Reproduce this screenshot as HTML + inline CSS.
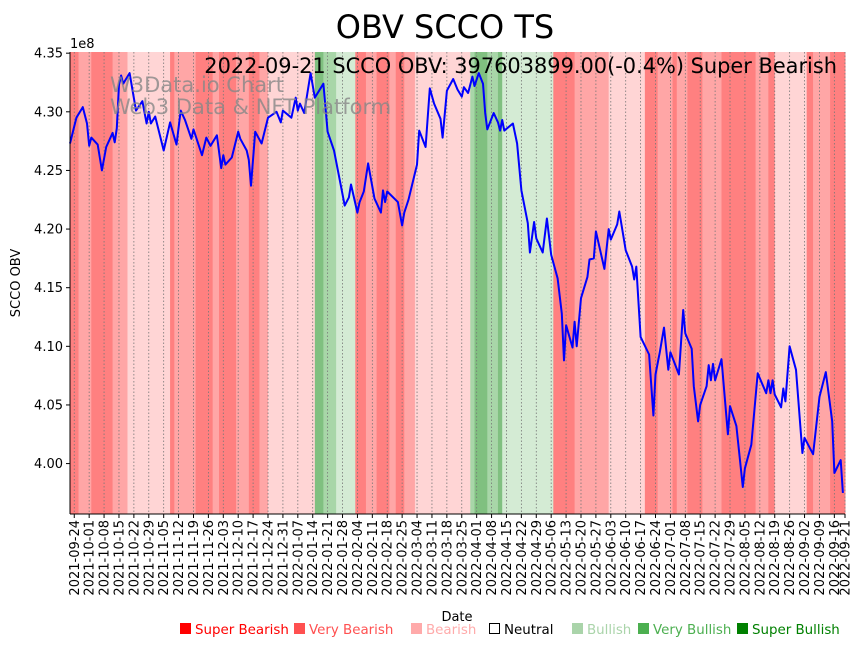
<!DOCTYPE html>
<html><head><meta charset="utf-8"><style>
body{margin:0;background:#fff;font-family:"Liberation Sans","DejaVu Sans",sans-serif}
svg text{font-family:"DejaVu Sans","Liberation Sans",sans-serif}
</style></head><body>
<svg id="chart" width="864" height="646" xmlns="http://www.w3.org/2000/svg">
<text x="445" y="38" font-size="32" text-anchor="middle">OBV SCCO TS</text>
<g id="bands"></g><g id="grid"></g><g id="line"></g>
<text x="110" y="92" font-size="21" fill="#888" opacity="0.8">W3Data.io Chart</text>
<text x="110" y="114" font-size="21" fill="#888" opacity="0.8">Web3 Data &amp; NFT Platform</text>
<text x="837" y="73" font-size="20.9" text-anchor="end">2022-09-21 SCCO OBV: 397603899.00(-0.4%) Super Bearish</text>
<g id="axes"></g>
<text x="70" y="48" font-size="13">1e8</text>
<text transform="translate(20,283) rotate(-90)" font-size="13" text-anchor="middle">SCCO OBV</text>
<text x="457" y="621" font-size="13" text-anchor="middle">Date</text>
<g id="legend" font-size="13.4"></g>
</svg>
<script>
const startDate = new Date(Date.UTC(2021,8,22));
const obvDays = [0,3,6,8,9,10,13,15,17,20,21,22,23,24,25,28,31,34,36,37,38,40,44,47,50,52,54,57,58,62,64,66,69,71,72,73,76,79,80,83,84,85,87,90,93,97,99,100,104,106,107,108,110,113,115,119,121,124,127,129,131,132,135,136,138,140,143,146,147,148,149,154,156,157,159,163,164,167,169,171,174,175,177,180,182,184,185,187,189,190,192,194,195,196,199,201,202,203,204,208,210,212,215,216,218,219,222,224,226,229,231,232,233,236,237,238,240,243,244,246,247,251,253,254,257,258,261,264,265,266,268,272,274,275,277,279,281,282,286,288,289,292,293,295,296,299,300,301,302,303,306,309,310,313,316,317,320,323,327,328,329,330,331,334,335,336,338,341,344,345,349,352,355,358,359,362,363];
const obvValues = [4.273,4.295,4.304,4.290,4.271,4.278,4.272,4.250,4.270,4.282,4.274,4.286,4.323,4.331,4.324,4.333,4.301,4.309,4.290,4.300,4.290,4.296,4.267,4.291,4.272,4.301,4.293,4.277,4.285,4.263,4.278,4.271,4.280,4.252,4.263,4.255,4.261,4.283,4.277,4.267,4.259,4.237,4.283,4.273,4.295,4.300,4.291,4.301,4.295,4.312,4.301,4.307,4.299,4.333,4.312,4.324,4.283,4.267,4.239,4.220,4.227,4.238,4.214,4.223,4.232,4.256,4.226,4.214,4.233,4.223,4.232,4.223,4.203,4.214,4.225,4.255,4.284,4.270,4.320,4.307,4.294,4.278,4.318,4.328,4.319,4.313,4.321,4.316,4.330,4.322,4.333,4.324,4.299,4.285,4.299,4.291,4.284,4.293,4.284,4.290,4.273,4.233,4.205,4.180,4.206,4.192,4.180,4.209,4.178,4.158,4.128,4.088,4.118,4.099,4.121,4.100,4.141,4.159,4.174,4.175,4.198,4.166,4.200,4.191,4.204,4.215,4.182,4.168,4.157,4.168,4.108,4.093,4.041,4.076,4.095,4.116,4.080,4.095,4.076,4.131,4.111,4.098,4.066,4.036,4.050,4.066,4.084,4.071,4.085,4.071,4.089,4.025,4.049,4.032,3.980,3.996,4.016,4.077,4.060,4.071,4.060,4.071,4.059,4.048,4.064,4.053,4.100,4.080,4.009,4.022,4.008,4.057,4.078,4.036,3.992,4.003,3.975];
const bandStarts = [0,4,10,20,24,27,47,49,59,67,70,78,84,89,93,115,119,125,134,139,144,150,153,157,162,188,190,196,201,203,227,237,253,270,276,283,285,290,297,306,322,328,331,346,349,357,364];
const bandLevels = [-3,-2,-3,-2,-2,-1,-3,-2,-3,-2,-3,-2,-3,-2,-1,3,2,1,-3,-2,-3,-2,-3,-2,-1,2,3,2,3,1,-3,-2,-1,-3,-2,-3,-2,-3,-2,-3,-2,-3,-1,-3,-2,-3];
const yTicks = [4.00,4.05,4.10,4.15,4.20,4.25,4.30,4.35];
const legendLabels = ["Super Bearish","Very Bearish","Bearish","Neutral","Bullish","Very Bullish","Super Bullish"];

const L=70,R=845,T=52,B=514,D0=0,D1=364,V0=3.957,V1=4.351;
const xs=d=>L+(d-D0)/(D1-D0)*(R-L);
const ys=v=>B-(v-V0)/(V1-V0)*(B-T);
const NS="http://www.w3.org/2000/svg";
function mk(tag,attrs,parent){const e=document.createElementNS(NS,tag);for(const k in attrs)e.setAttribute(k,attrs[k]);parent.appendChild(e);return e;}
const bandColor={"-3":"#ff8080","-2":"#ffa6a6","-1":"#ffd5d5","1":"#d4ebd4","2":"#a8d6a8","3":"#80c080"};
const gB=document.getElementById('bands');
bandLevels.forEach((lv,i)=>{
  const r=mk('rect',{x:xs(bandStarts[i]),y:T,width:xs(bandStarts[i+1])-xs(bandStarts[i])+0.5,height:B-T,fill:bandColor[lv]},gB);
  
  
});
const gG=document.getElementById('grid'),gA=document.getElementById('axes');
const tickDays=[];for(let d=2;d<=359;d+=7)tickDays.push(d);tickDays.push(364);
tickDays.forEach(d=>{
  const x=xs(d);
  const gl=mk('line',{x1:x,x2:x,y1:T,y2:B,stroke:'#777','stroke-width':0.8,'stroke-dasharray':'1.5,2'},gG);
  
  
  mk('line',{x1:x,x2:x,y1:B,y2:B+4,stroke:'#000'},gA);
  const dt=new Date(startDate.getTime()+d*86400000);
  const s=dt.toISOString().slice(0,10);
  const t=mk('text',{transform:`translate(${x+4.5},${B+6}) rotate(-90)`,'font-size':13,'text-anchor':'end'},gA);
  t.textContent=s;
  
  
});
yTicks.forEach(v=>{
  const y=ys(v);
  mk('line',{x1:L-4,x2:L,y1:y,y2:y,stroke:'#000'},gA);
  const t=mk('text',{x:L-7,y:y+4.5,'font-size':13,'text-anchor':'end'},gA);
  t.textContent=v.toFixed(2);
  
  
});
mk('line',{x1:L,x2:L,y1:T,y2:B,stroke:'#000','stroke-width':1},gA);
mk('line',{x1:L,x2:R,y1:B,y2:B,stroke:'#000','stroke-width':1},gA);
const pts=obvDays.map((d,i)=>xs(d).toFixed(1)+','+ys(obvValues[i]).toFixed(1)).join(' ');
const pl=mk('polyline',{points:pts,fill:'none',stroke:'#0000ff','stroke-width':2,'stroke-linejoin':'round'},document.getElementById('line'));


const lgCol=["#ff0000","#ff5050","#ffaaaa","#000","#aad4aa","#4caf50","#008000"];
const lgX=[180,294,411,489,572,638,737];
const gL=document.getElementById('legend');
legendLabels.forEach((lab,i)=>{
  const g=mk('g',{},gL);
  
  
  if(i===3)mk('rect',{x:lgX[i]+0.5,y:623.5,width:10,height:10,fill:'#fff',stroke:'#000'},g);
  else mk('rect',{x:lgX[i],y:623,width:11,height:11,fill:lgCol[i]},g);
  const t=mk('text',{x:lgX[i]+15,y:634,fill:lgCol[i]},g);
  t.textContent=lab;
});
</script>
</body></html>
